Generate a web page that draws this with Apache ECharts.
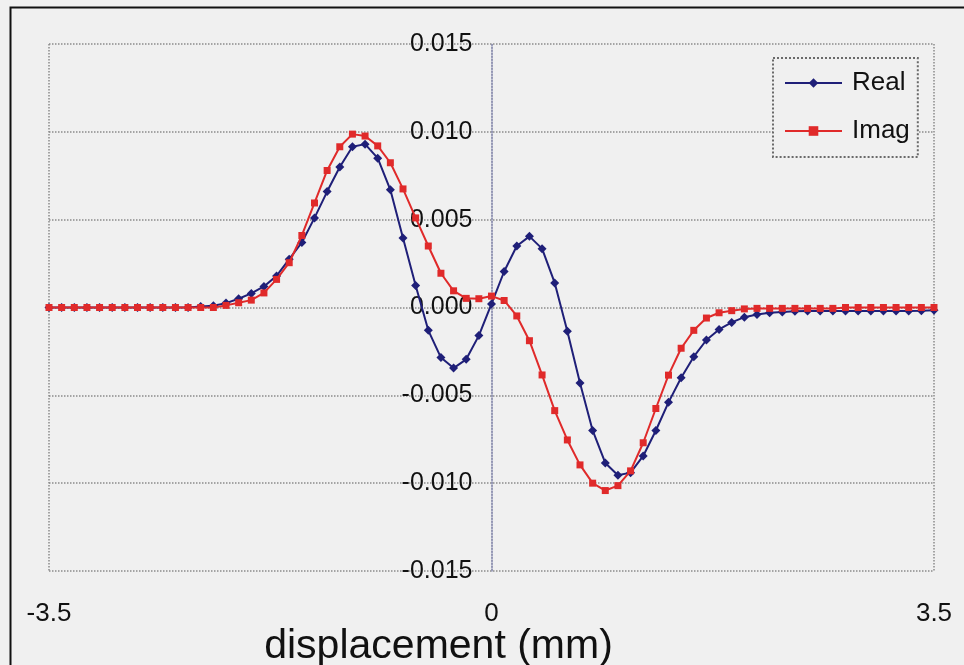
<!DOCTYPE html>
<html>
<head>
<meta charset="utf-8">
<style>
  html, body { margin: 0; padding: 0; background: #f0f0f0; }
  #chart { width: 964px; height: 665px; }
</style>
<script src="https://cdn.jsdelivr.net/npm/echarts@6/dist/echarts.min.js"></script>
</head>
<body>
<div id="chart"></div>
<script>
// Sample positions along the scan (mm)
const displacement = [
  -3.5, -3.4, -3.3, -3.2, -3.1, -3.0, -2.9, -2.8, -2.7, -2.6,
  -2.5, -2.4, -2.3, -2.2, -2.1, -2.0, -1.9, -1.8, -1.7, -1.6,
  -1.5, -1.4, -1.3, -1.2, -1.1, -1.0, -0.9, -0.8, -0.7, -0.6,
  -0.5, -0.4, -0.3, -0.2, -0.1, 0.0, 0.1, 0.2, 0.3, 0.4,
  0.5, 0.6, 0.7, 0.8, 0.9, 1.0, 1.1, 1.2, 1.3, 1.4,
  1.5, 1.6, 1.7, 1.8, 1.9, 2.0, 2.1, 2.2, 2.3, 2.4,
  2.5, 2.6, 2.7, 2.8, 2.9, 3.0, 3.1, 3.2, 3.3, 3.4, 3.5
];

// Real part of the signal
const realPart = [
  0, 0, 0, 0, 0, 0, 0, 0, 0, 0,
  0, 0, 0.00005, 0.0001, 0.00025, 0.0005, 0.0008, 0.0012, 0.0018, 0.00275,
  0.0037, 0.0051, 0.0066, 0.0080, 0.00915, 0.0093, 0.0085, 0.0067, 0.00395, 0.00125,
  -0.0013, -0.00285, -0.00345, -0.00295, -0.0016, 0.0002, 0.00205, 0.0035, 0.00405, 0.00335,
  0.0014, -0.00135, -0.0043, -0.0070, -0.00885, -0.00955, -0.0094, -0.00845, -0.0070, -0.0054,
  -0.0040, -0.0028, -0.00185, -0.00125, -0.00085, -0.00055, -0.0004, -0.0003, -0.00025, -0.00022,
  -0.0002, -0.0002, -0.0002, -0.0002, -0.0002, -0.0002, -0.0002, -0.0002, -0.0002, -0.00018, -0.00015
];

// Imaginary part of the signal
const imagPart = [
  0, 0, 0, 0, 0, 0, 0, 0, 0, 0,
  0, 0, 0, 0, 0.00012, 0.00027, 0.00042, 0.00083, 0.0016, 0.00255,
  0.0041, 0.00595, 0.0078, 0.00915, 0.00987, 0.00976, 0.0092, 0.00824, 0.00675, 0.0051,
  0.0035, 0.00195, 0.00095, 0.00052, 0.0005, 0.00065, 0.0004, -0.00048, -0.00189, -0.00384,
  -0.00587, -0.00754, -0.00896, -0.0100, -0.01042, -0.01014, -0.0093, -0.0077, -0.00575, -0.00385,
  -0.00232, -0.0013, -0.0006, -0.0003, -0.00018, -0.00008, -0.00005, -0.00005, -0.00005, -0.00005,
  -0.00005, -0.00005, -0.00005, 0, 0, 0, 0, 0, 0, 0, 0
];

// Axis ticks
const xTicks = [-3.5, 0, 3.5];
const yTicks = [-0.015, -0.010, -0.005, 0.000, 0.005, 0.010, 0.015];

const seriesNames = ['Real', 'Imag'];

const pair = (xs, ys) => xs.map((x, i) => [x, ys[i]]);

const FONT = '"Liberation Sans", Arial, sans-serif';
const GRID_LINE = { color: '#8a8a8a', width: 1.5, type: 'dotted' };

// Plot box in pixels
const GRID_LEFT = 49, GRID_RIGHT = 30, GRID_TOP = 44, GRID_BOTTOM = 94;
const PLOT_WIDTH = 964 - GRID_LEFT - GRID_RIGHT;
const xMin = xTicks[0], xMax = xTicks[xTicks.length - 1];
// the value axis is drawn through x = 0, labels included
const yAxisShift = PLOT_WIDTH * (0 - xMin) / (xMax - xMin);

const chart = echarts.init(document.getElementById('chart'), null, { renderer: 'canvas' });

chart.setOption({
  animation: false,
  backgroundColor: '#f0f0f0',
  textStyle: { fontFamily: FONT },
  graphic: [
    {
      type: 'rect',
      left: 8, top: 5,
      shape: { width: 1000, height: 700 },
      style: { fill: 'none', stroke: '#111', lineWidth: 2 },
      silent: true
    }
  ],
  grid: {
    left: GRID_LEFT, right: GRID_RIGHT, top: GRID_TOP, bottom: GRID_BOTTOM,
    containLabel: false,
    outerBoundsMode: 'none'
  },
  legend: {
    orient: 'vertical',
    left: 773, top: 58,
    data: seriesNames,
    itemWidth: 57, itemHeight: 12,
    itemGap: 22,
    padding: [12, 8, 13, 11],
    backgroundColor: '#f0f0f0',
    borderColor: '#6a6a6a',
    borderWidth: 2,
    borderType: 'dotted',
    textStyle: { fontFamily: FONT, fontSize: 26, lineHeight: 26, color: '#111', padding: [0, 0, 0, 5] }
  },
  xAxis: {
    type: 'value',
    min: xMin, max: xMax, interval: xTicks[2] - xTicks[1],
    name: 'displacement (mm)',
    nameLocation: 'middle',
    nameMoveOverlap: false,
    nameGap: 55,
    nameTextStyle: { fontFamily: FONT, fontSize: 41, color: '#111', padding: [0, 106, 0, 0] },
    axisLine: { onZero: false, show: false },
    axisTick: { show: false },
    axisLabel: { fontFamily: FONT, fontSize: 26, color: '#111', margin: 30 },
    splitLine: { show: true, lineStyle: GRID_LINE }
  },
  yAxis: {
    type: 'value',
    position: 'left',
    offset: -yAxisShift,
    min: yTicks[0], max: yTicks[yTicks.length - 1], interval: 0.005,
    axisLine: { show: true, onZero: false, lineStyle: { color: '#8f93b8', width: 1.5, type: 'dotted' } },
    axisTick: { show: false },
    axisLabel: {
      fontFamily: FONT, fontSize: 25, color: '#111', margin: 19,
      formatter: v => v.toFixed(3)
    },
    splitLine: { show: true, lineStyle: GRID_LINE }
  },
  series: [
    {
      name: seriesNames[0],
      type: 'line',
      data: pair(displacement, realPart),
      symbol: 'diamond',
      symbolSize: 9,
      showAllSymbol: true,
      color: '#1f1f78',
      lineStyle: { width: 2, color: '#1f1f78' },
      itemStyle: { color: '#1f1f78' },
      z: 3
    },
    {
      name: seriesNames[1],
      type: 'line',
      data: pair(displacement, imagPart),
      symbol: 'rect',
      symbolSize: 7,
      showAllSymbol: true,
      color: '#e02a2a',
      lineStyle: { width: 2, color: '#e02a2a' },
      itemStyle: { color: '#e02a2a' },
      z: 4
    }
  ]
});
</script>
</body>
</html>
